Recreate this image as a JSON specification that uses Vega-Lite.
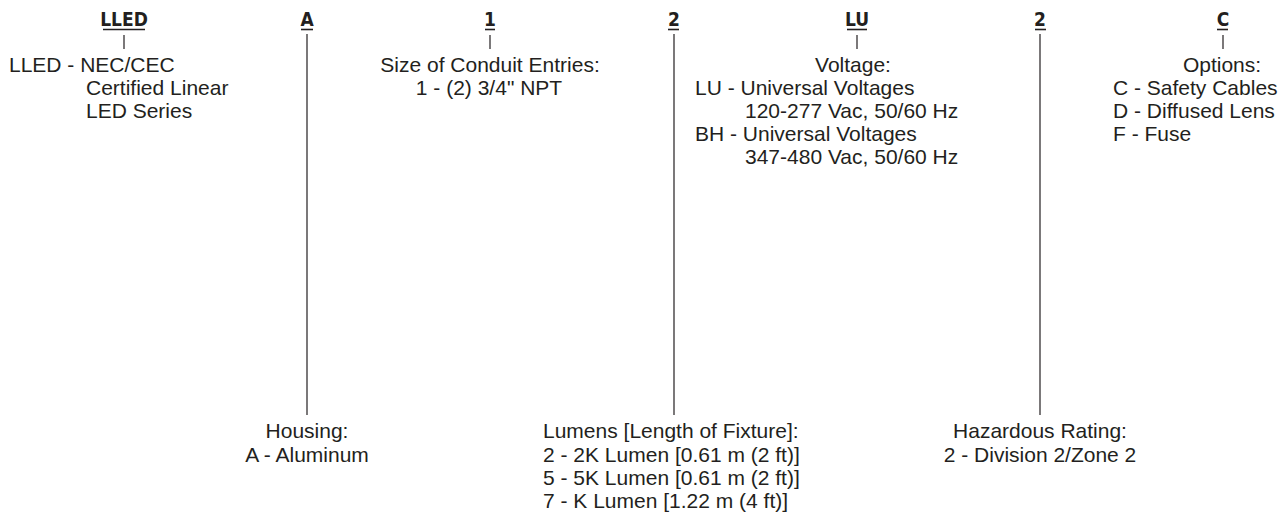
{
  "$schema": "https://vega.github.io/schema/vega-lite/v6.json",
  "width": 1283,
  "height": 515,
  "autosize": {"type": "fit", "contains": "padding"},
  "padding": 0,
  "background": "white",
  "config": {"view": {"stroke": null}},
  "datasets": {
    "codes": [
      {"code": "LLED", "x": 124, "y": 26, "left": 103, "right": 145, "lineY": 29.5, "stemTop": 35, "stemEnd": 49},
      {"code": "A", "x": 307, "y": 26, "left": 301, "right": 313, "lineY": 29.5, "stemTop": 34, "stemEnd": 415},
      {"code": "1", "x": 490, "y": 26, "left": 485, "right": 495, "lineY": 29.5, "stemTop": 35, "stemEnd": 49},
      {"code": "2", "x": 674, "y": 26, "left": 668, "right": 679, "lineY": 29.5, "stemTop": 34, "stemEnd": 415},
      {"code": "LU", "x": 857, "y": 26, "left": 847, "right": 867, "lineY": 29.5, "stemTop": 35, "stemEnd": 49},
      {"code": "2", "x": 1040, "y": 26, "left": 1035, "right": 1046, "lineY": 29.5, "stemTop": 34, "stemEnd": 415},
      {"code": "C", "x": 1223, "y": 26, "left": 1217, "right": 1228, "lineY": 29.5, "stemTop": 35, "stemEnd": 49}
    ],
    "lines": [
      {"role": "entry", "x": 9, "y": 72, "text": "LLED - NEC/CEC"},
      {"role": "entry", "x": 86, "y": 95, "text": "Certified Linear"},
      {"role": "entry", "x": 86, "y": 118, "text": "LED Series"},
      {"role": "title", "x": 490, "y": 72, "text": "Size of Conduit Entries:"},
      {"role": "title", "x": 489, "y": 95, "text": "1 - (2) 3/4\" NPT"},
      {"role": "title", "x": 853, "y": 72, "text": "Voltage:"},
      {"role": "entry", "x": 695, "y": 95, "text": "LU - Universal Voltages"},
      {"role": "entry", "x": 745, "y": 118, "text": "120-277 Vac, 50/60 Hz"},
      {"role": "entry", "x": 695, "y": 141, "text": "BH - Universal Voltages"},
      {"role": "entry", "x": 745, "y": 164, "text": "347-480 Vac, 50/60 Hz"},
      {"role": "title", "x": 1222, "y": 72, "text": "Options:"},
      {"role": "entry", "x": 1113, "y": 95, "text": "C - Safety Cables"},
      {"role": "entry", "x": 1113, "y": 118, "text": "D - Diffused Lens"},
      {"role": "entry", "x": 1113, "y": 141, "text": "F - Fuse"},
      {"role": "title", "x": 307, "y": 438, "text": "Housing:"},
      {"role": "title", "x": 307, "y": 462, "text": "A - Aluminum"},
      {"role": "entry", "x": 543, "y": 438, "text": "Lumens [Length of Fixture]:"},
      {"role": "entry", "x": 543, "y": 462, "text": "2 - 2K Lumen [0.61 m (2 ft)]"},
      {"role": "entry", "x": 543, "y": 485, "text": "5 - 5K Lumen [0.61 m (2 ft)]"},
      {"role": "entry", "x": 543, "y": 508, "text": "7 - K Lumen [1.22 m (4 ft)]"},
      {"role": "title", "x": 1040, "y": 438, "text": "Hazardous Rating:"},
      {"role": "title", "x": 1040, "y": 462, "text": "2 - Division 2/Zone 2"}
    ]
  },
  "encoding": {
    "x": {"field": "x", "type": "quantitative", "scale": {"domain": [0, 1283], "nice": false, "zero": false}, "axis": null},
    "y": {"field": "y", "type": "quantitative", "scale": {"domain": [0, 515], "nice": false, "zero": false, "reverse": true}, "axis": null}
  },
  "layer": [
    {
      "data": {"name": "codes"},
      "mark": {"type": "rule", "color": "#231f20", "strokeWidth": 1.2},
      "encoding": {
        "y": {"field": "stemTop", "type": "quantitative"},
        "y2": {"field": "stemEnd"}
      }
    },
    {
      "data": {"name": "codes"},
      "mark": {"type": "rule", "color": "#231f20", "strokeWidth": 1.6},
      "encoding": {
        "x": {"field": "left", "type": "quantitative"},
        "x2": {"field": "right"},
        "y": {"field": "lineY", "type": "quantitative"}
      }
    },
    {
      "data": {"name": "codes"},
      "mark": {"type": "text", "font": "Liberation Sans Narrow, DejaVu Sans Condensed", "fontWeight": "bold", "fontSize": 19, "align": "center", "baseline": "alphabetic", "color": "#231f20"},
      "encoding": {
        "text": {"field": "code"}
      }
    },
    {
      "data": {"name": "lines"},
      "transform": [{"filter": "datum.role === 'title'"}],
      "mark": {"type": "text", "font": "Liberation Sans", "fontSize": 21, "align": "center", "baseline": "alphabetic", "color": "#231f20"},
      "encoding": {
        "text": {"field": "text"}
      }
    },
    {
      "data": {"name": "lines"},
      "transform": [{"filter": "datum.role === 'entry'"}],
      "mark": {"type": "text", "font": "Liberation Sans", "fontSize": 21, "align": "left", "baseline": "alphabetic", "color": "#231f20"},
      "encoding": {
        "text": {"field": "text"}
      }
    }
  ]
}
